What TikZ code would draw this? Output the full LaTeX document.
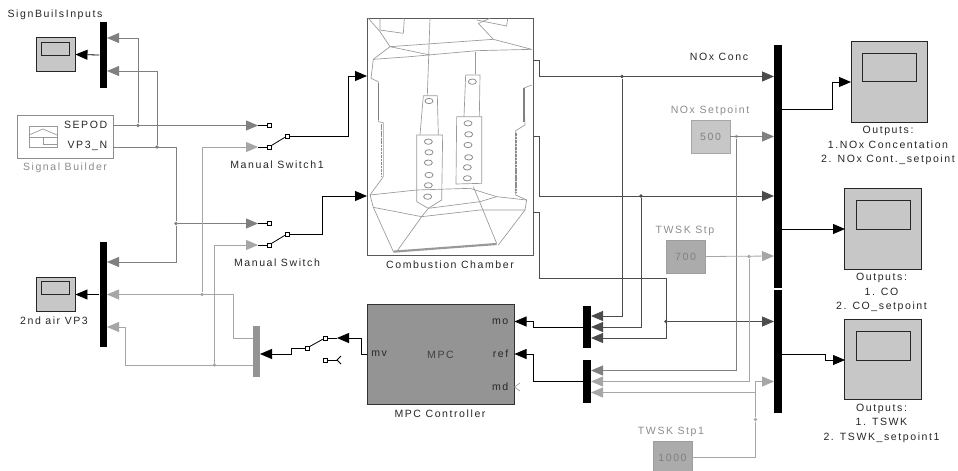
\documentclass[tikz,border=0pt]{standalone}
\usepackage{fontspec}
\setmainfont[LetterSpace=15]{Liberation Sans}
\usetikzlibrary{arrows.meta}

\begin{document}
\begin{tikzpicture}[x=0.75pt, y=-0.75pt, font=\fontsize{7.9}{10.9}\selectfont]
\tikzset{
  wire/.style={line width=0.6pt, black},
  arrblack/.style={wire, -{Triangle[length=9pt, width=7.5pt]}},
  arrdark/.style={line width=0.6pt, draw=gray!60!black, -{Triangle[length=9pt, width=7.5pt, color=gray!60!black]}},
  arrmid/.style={line width=0.6pt, draw=black!50, -{Triangle[length=9pt, width=7.5pt, color=black!50]}},
  arrlight/.style={line width=0.6pt, draw=black!35, -{Triangle[length=9pt, width=7.5pt, color=black!35]}},
  barblack/.style={rectangle, fill=black, inner sep=0pt, minimum width=5.6pt},
  scopesmall/.style={rectangle, draw=black!85, fill=black!22, line width=0.7pt, minimum width=29.25pt, minimum height=25.5pt, inner sep=0pt},
  scopebig/.style={rectangle, draw=black!85, fill=black!22, line width=0.7pt, minimum width=57.5pt, minimum height=60.5pt, inner sep=0pt},
  screensmall/.style={rectangle, draw=black!85, line width=0.7pt, minimum width=21.5pt, minimum height=9.5pt, inner sep=0pt},
  screenbig/.style={rectangle, draw=black!85, line width=0.7pt, minimum width=40.5pt, minimum height=21.5pt, inner sep=0pt},
  term/.style={rectangle, draw=black, fill=white, line width=0.5pt, minimum size=2.8pt, inner sep=0pt},
  dotdark/.style={circle, fill=gray!60!black, minimum size=2.8pt, inner sep=0pt},
  dotmid/.style={circle, fill=black!50, minimum size=2.8pt, inner sep=0pt},
  dotlight/.style={circle, fill=black!35, minimum size=2.8pt, inner sep=0pt},
  constbox/.style={rectangle, minimum width=29.25pt, minimum height=25pt, inner sep=0pt},
  lab/.style={inner sep=0pt, align=center, text=black!85},
  labgray/.style={inner sep=0pt, text=black!45},
  sketch/.style={line width=0.5pt, draw=black!40},
}
\useasboundingbox (0,0) rectangle (958,471);
\clip (0,0) rectangle (958,471);

% left scopes and muxes
\node[scopesmall] (scopeA) at (55.5,54.5) {};
\node[screensmall] (screenA) at (55.5,49) {};
\node[barblack, minimum height=49.5pt] (muxA) at (103.25,55) {};
\node[lab] (labA) at (55,15) {SignBuilsInputs};
\node[scopesmall] (scopeB) at (55.5,294.5) {};
\node[screensmall] (screenB) at (55.5,288) {};
\node[barblack, minimum height=78.75pt] (muxB) at (103.25,294.5) {};
\node[lab] (labB) at (54,321) {2nd air VP3};

% signal builder
\node[rectangle, draw=black!45, line width=0.7pt, inner sep=0pt, minimum width=72pt, minimum height=32.25pt] (builder) at (65,136.5) {};
\node[lab, anchor=east] (sepod) at (107.5,125) {SEPOD};
\node[lab, anchor=east] (vpn) at (107.5,146) {VP3\_N};
\node[labgray] (labBuilder) at (65,167.5) {Signal Builder};
\draw[sketch] (29,126) rectangle (57,147);
\draw[sketch] (29,135) -- (43,129) -- (57,135);
\draw[sketch] (29,137) -- (57,137);
\draw[sketch] (29,137) -- (43,137) -- (43,144) -- (57,144);

% ports
\coordinate (builderA) at (113,125.5);
\coordinate (builderB) at (113,147);
\coordinate (inAa) at (107,38);
\coordinate (inAb) at (107,71);
\coordinate (inBa) at (107,262);
\coordinate (inBb) at (107,294.5);
\coordinate (inBc) at (107,327);

% manual switches
\coordinate (tipOneA) at (258,125.5);
\coordinate (tipOneB) at (258,147);
\coordinate (tipTwoA) at (258,223.5);
\coordinate (tipTwoB) at (258,245);
\node[term] (oneA) at (269,125.5) {};
\node[term] (oneB) at (269,147) {};
\node[term] (oneC) at (287,136) {};
\node[term] (twoA) at (269,223.5) {};
\node[term] (twoB) at (269,245) {};
\node[term] (twoC) at (287,234) {};
\node[lab] (labOne) at (277,165) {Manual Switch1};
\node[lab] (labTwo) at (277,263) {Manual Switch};

% combustion chamber
\node[rectangle, draw=black!65, line width=0.7pt, inner sep=0pt, minimum width=124.5pt, minimum height=177.75pt] (chamber) at (450,136.5) {};
\node[lab] (labChamber) at (450,264.5) {Combustion Chamber};
\begin{scope}[shift={(350,0)}, x=0.25pt, y=-0.25pt]
\draw[sketch] (55,55) -- (90,95) -- (120,140) -- (430,118) -- (385,70) -- (420,55);
\draw[sketch] (90,55) -- (90,90) -- (160,100) -- (163,55);
\draw[sketch] (380,60) -- (470,78) -- (473,55);
\draw[sketch] (120,140) -- (70,178) -- (63,235) -- (85,245) -- (85,365) -- (100,368) -- (100,530) -- (60,585);
\draw[sketch] (70,178) -- (180,170) -- (380,152) -- (545,148);
\draw[sketch] (120,140) -- (240,165);
\draw[sketch] (430,118) -- (545,148);
\draw[sketch] (545,255) -- (520,265) -- (525,375) -- (497,392) -- (497,585) -- (530,600);
\draw[sketch] (240,55) -- (232,285);
\draw[sketch] (375,155) -- (375,222);
\draw[sketch] (220,287) -- (262,287) -- (265,405);
\draw[sketch] (220,287) -- (210,405);
\draw[sketch] (347,225) -- (390,225) -- (388,348);
\draw[sketch] (347,225) -- (342,350);
\draw[sketch] (200,405) -- (278,405) -- (275,600) -- (235,625) -- (200,605) -- cycle;
\draw[sketch] (320,350) -- (395,350) -- (395,550) -- (318,552) -- cycle;
\draw[sketch] (60,585) -- (200,570) -- (360,565) -- (440,590) -- (530,600) -- (525,630) -- (390,630) -- (215,650) -- (70,622) -- cycle;
\draw[sketch] (70,622) -- (130,755);
\draw[sketch] (215,650) -- (140,755);
\draw[sketch] (370,560) -- (440,730);
\draw[sketch] (525,630) -- (445,735);
\draw[sketch] (235,625) -- (215,650);
\draw[sketch] (235,625) -- (390,605) -- (440,590);
\draw[black!40, line width=1.6pt] (130,755) -- (440,732);
\draw[black!50, line width=1.2pt] (85,250) -- (85,360);
\draw[black!50, line width=1.2pt] (522,265) -- (522,365);
\draw[black!45, line width=1.2pt, dash pattern=on 2pt off 0.6pt] (95,372) -- (95,530);
\draw[black!45, line width=1.2pt, dash pattern=on 2pt off 0.6pt] (498,400) -- (498,580);
\foreach \cx/\cy in {237/303,235/425,237/457,235/488,237/525,235/556,233/590,367/245,354/370,356/403,354/435,356/472,352/502,352/535}
  \draw[black!45, line width=0.6pt] (\cx,\cy) ellipse (12 and 8);
\end{scope}

% mpc controller and its switch
\node[rectangle, draw=black!80, fill=black!42, text=black!75, line width=0.7pt, inner sep=0pt, minimum width=110.25pt, minimum height=75.5pt] (mpc) at (440.5,354.5) {MPC};
\node[lab, anchor=east] (mpcMoLab) at (508.5,321.5) {mo};
\node[lab, anchor=east] (mpcRefLab) at (508.5,354) {ref};
\node[lab, anchor=east] (mpcMdLab) at (508.5,387) {md};
\node[lab, anchor=west] (mpcMvLab) at (371,354) {mv};
\node[lab] (labMpc) at (440,413.5) {MPC Controller};
\coordinate (mpcMo) at (514.5,321.5);
\coordinate (mpcRef) at (514.5,354);
\coordinate (mpcMd) at (514.5,387);
\coordinate (mpcMv) at (367,354.5);
\draw[sketch] (mpcMd) -- ++(5.5,-4);
\draw[sketch] (mpcMd) -- ++(5.5,4);
\node[rectangle, fill=black!42, inner sep=0pt, minimum width=5.6pt, minimum height=38.25pt] (muxC) at (256.25,351.5) {};
\coordinate (muxCa) at (252.5,338);
\coordinate (muxCb) at (252.5,365);
\coordinate (muxCin) at (260,354);
\coordinate (tipThree) at (337,338);
\node[term] (threeA) at (325,338) {};
\node[term] (threeB) at (325,360) {};
\node[term] (threeC) at (307,348) {};
\coordinate (forkThree) at (337,360);

% muxes in front of the controller
\node[barblack, minimum height=31.5pt] (muxD) at (587,327) {};
\node[barblack, minimum height=32.25pt] (muxE) at (587,381.5) {};
\coordinate (inDa) at (591,316);
\coordinate (inDb) at (591,327);
\coordinate (inDc) at (591,338);
\coordinate (inEa) at (591,370.5);
\coordinate (inEb) at (591,381.5);
\coordinate (inEc) at (591,392.5);

% setpoints
\node[constbox, fill=black!22, draw=black!35, text=black!50] (nox) at (710.5,136.5) {500};
\node[labgray] (labNox) at (710,111) {NOx Setpoint};
\node[constbox, fill=black!33, draw=black!38, text=black!50] (twskA) at (685.5,256.5) {700};
\node[labgray] (labTwskA) at (685,230.5) {TWSK Stp};
\node[constbox, fill=black!33, draw=black!38, text=black!50] (twskB) at (672.5,457.5) {1000};
\node[labgray] (labTwskB) at (671,432) {TWSK Stp1};
\node[lab] (labConc) at (719,57) {NOx Conc};

% big muxes and scopes
\node[barblack, minimum height=182.5pt] (bigA) at (778,166.35) {};
\node[barblack, minimum height=92.25pt] (bigB) at (778,351.5) {};
\coordinate (bigInA) at (774,76.5);
\coordinate (bigInB) at (774,136.5);
\coordinate (bigInC) at (774,196);
\coordinate (bigInD) at (774,256);
\coordinate (bigInE) at (774,321.5);
\coordinate (bigInF) at (774,381.5);
\coordinate (outA) at (782,109);
\coordinate (outB) at (782,229);
\coordinate (outC) at (782,354);
\node[scopebig] (scopeC) at (889.5,82) {};
\node[screenbig] (screenC) at (889,67.5) {};
\node[scopebig] (scopeD) at (883,229) {};
\node[screenbig] (screenD) at (883,215) {};
\node[scopebig] (scopeE) at (883,359.5) {};
\node[screenbig] (screenE) at (883,346) {};
\coordinate (scopeCin) at (851,82);
\coordinate (scopeDin) at (845,229);
\coordinate (scopeEin) at (845,360);
\node[lab] (labC) at (888,145.5) {Outputs:\\1.NOx Concentation\\2. NOx Cont.\_setpoint};
\node[lab] (labD) at (881.5,292.5) {Outputs:\\1. CO\\2. CO\_setpoint};
\node[lab] (labE) at (881.5,423) {Outputs:\\1. TSWK\\2. TSWK\_setpoint1};

% junctions
\node[dotmid] (jSep) at (138,125.5) {};
\node[dotmid] (jVpA) at (157,147) {};
\node[dotmid] (jVpB) at (176,223.5) {};
\node[dotlight] (jBackA) at (202,294.5) {};
\node[dotlight] (jBackB) at (214.5,365) {};
\node[dotdark] (jConcA) at (622,76.5) {};
\node[dotdark] (jConcB) at (641,196) {};
\coordinate (cornerC) at (666,278);
\node[dotdark] (jConcC) at (666,321.5) {};
\node[dotlight] (jNox) at (736.5,136.5) {};
\node[dotlight] (jTwskA) at (749,256.5) {};
\node[dotlight] (jTwskB) at (755.5,419.5) {};
\coordinate (chamberA) at (533,60);
\coordinate (chamberB) at (533,136);
\coordinate (chamberC) at (533,212);
\coordinate (chamberInA) at (367,76);
\coordinate (chamberInB) at (367,196);

% connectors
\draw[arrblack] (muxA.west) -- (scopeA.east);
\draw[arrblack] (muxB.west) -- (scopeB.east);
\draw[arrmid] (jSep) |- (inAa);
\draw[arrmid] (jVpA) |- (inAb);
\draw[arrmid] (builderA) -- (tipOneA);
\draw[line width=0.6pt, black!50] (builderB) -| (jVpB);
\draw[arrmid] (jVpB) |- (inBa);
\draw[arrmid] (jVpB) -- (tipTwoA);
\draw[arrlight] (jBackA) |- (tipOneB);
\draw[arrlight] (jBackB) |- (tipTwoB);
\draw[arrlight] (muxCa) -- ++(-19.5,0) |- (inBb);
\draw[arrlight] (muxCb) -- ++(-127,0) |- (inBc);
\draw[wire] (tipOneA) -- (oneA);
\draw[wire] (tipOneB) -- (oneB);
\draw[wire] (oneB) -- (oneC);
\draw[wire] (tipTwoA) -- (twoA);
\draw[wire] (tipTwoB) -- (twoB);
\draw[wire] (twoB) -- (twoC);
\draw[arrblack] (oneC) -- ++(61,0) |- (chamberInA);
\draw[arrblack] (twoC) -- ++(35,0) |- (chamberInB);
\draw[arrdark] (chamberA) -- ++(6,0) |- (bigInA);
\draw[arrdark] (chamberB) -- ++(6,0) |- (bigInC);
\draw[line width=0.6pt, gray!60!black] (chamberC) -- ++(6,0) |- (cornerC);
\draw[arrdark] (cornerC) |- (inDc);
\draw[arrdark] (jConcC) -- (bigInE);
\draw[arrdark] (jConcA) |- (inDa);
\draw[arrdark] (jConcB) |- (inDb);
\draw[arrblack] (muxD.west) -- ++(-50,0) |- (mpcMo);
\draw[arrblack] (muxE.west) -- ++(-50,0) |- (mpcRef);
\draw[arrblack] (mpcMv) -- ++(-5.5,0) |- (tipThree);
\draw[wire] (tipThree) -- (threeA);
\draw[wire] (threeA) -- (threeC);
\draw[arrblack] (threeC) -- ++(-16,0) |- (muxCin);
\draw[wire] (threeB) -- (forkThree);
\draw[wire] (forkThree) -- ++(4,-4);
\draw[wire] (forkThree) -- ++(4,4);
\draw[arrmid] (nox.east) -- (bigInB);
\draw[arrmid] (jNox) |- (inEa);
\draw[arrlight] (twskA.east) -- (bigInD);
\draw[arrlight] (jTwskA) |- (inEb);
\draw[line width=0.6pt, black!35] (twskB.east) -| (jTwskB);
\draw[arrlight] (jTwskB) |- (inEc);
\draw[arrlight] (jTwskB) |- (bigInF);
\draw[arrblack] (outA) -- ++(50,0) |- (scopeCin);
\draw[arrblack] (outB) -- (scopeDin);
\draw[arrblack] (outC) -- ++(43,0) |- (scopeEin);
\end{tikzpicture}
\end{document}
